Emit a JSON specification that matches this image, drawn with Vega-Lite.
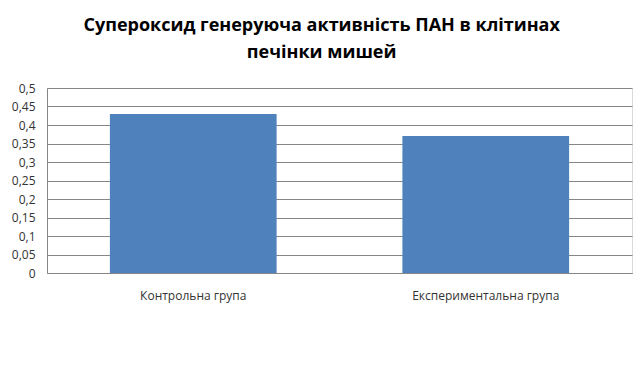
{
  "$schema": "https://vega.github.io/schema/vega-lite/v6.json",
  "width": 585,
  "height": 185,
  "autosize": {"type": "none"},
  "padding": {"left": 47, "top": 88, "right": 8, "bottom": 94},
  "background": "white",
  "title": {
    "text": ["Супероксид генеруюча активність ПАН в клітинах", "печінки мишей"],
    "font": "Open Sans",
    "fontSize": 18,
    "fontWeight": "bold",
    "color": "#000000",
    "lineHeight": 27,
    "anchor": "middle",
    "frame": "bounds",
    "offset": 20
  },
  "data": {
    "values": [
      {"group": "Контрольна група", "value": 0.43},
      {"group": "Експериментальна група", "value": 0.37}
    ]
  },
  "mark": {"type": "bar", "color": "#4F81BD"},
  "encoding": {
    "x": {
      "field": "group",
      "type": "nominal",
      "sort": null,
      "scale": {"paddingInner": 0.43, "paddingOuter": 0.215},
      "axis": {
        "title": null,
        "labelAngle": 0,
        "labelFont": "Open Sans",
        "labelFontSize": 12,
        "labelColor": "#333333",
        "labelPadding": 17,
        "ticks": false,
        "domainColor": "#868686",
        "grid": false
      }
    },
    "y": {
      "field": "value",
      "type": "quantitative",
      "scale": {"domain": [0, 0.5], "nice": false},
      "axis": {
        "title": null,
        "values": [0, 0.05, 0.1, 0.15, 0.2, 0.25, 0.3, 0.35, 0.4, 0.45, 0.5],
        "labelExpr": "replace(format(datum.value, '~g'), '.', ',')",
        "labelFont": "Open Sans",
        "labelFontSize": 12,
        "labelColor": "#333333",
        "labelPadding": 12,
        "ticks": false,
        "domainColor": "#868686",
        "gridColor": "#868686",
        "gridWidth": 1
      }
    }
  },
  "config": {
    "view": {"stroke": "#d9d9d9"}
  }
}
